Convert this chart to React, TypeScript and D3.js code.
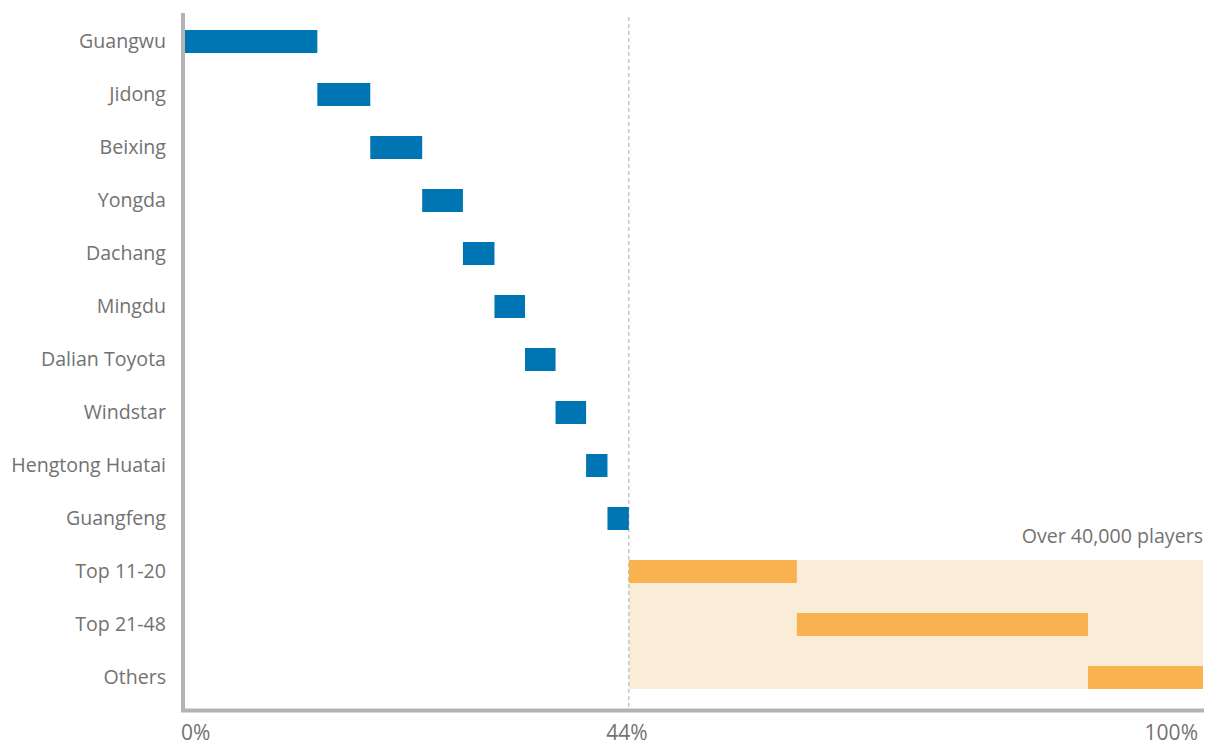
import React, { useEffect, useRef } from "react";
import * as d3 from "d3";

// data (share of total, %)
const categories = [
  "Guangwu",
  "Jidong",
  "Beixing",
  "Yongda",
  "Dachang",
  "Mingdu",
  "Dalian Toyota",
  "Windstar",
  "Hengtong Huatai",
  "Guangfeng",
  "Top 11-20",
  "Top 21-48",
  "Others",
];
const shares = [13.0, 5.2, 5.1, 4.0, 3.1, 3.0, 3.0, 3.0, 2.1, 2.1, 16.5, 28.6, 11.3];
const groups = ["top", "top", "top", "top", "top", "top", "top", "top", "top", "top", "rest", "rest", "rest"];
const tickLabels = ["0%", "44%", "100%"];
const noteText = "Over 40,000 players";

const W = 1205;
const H = 745;

const App = () => {
  const ref = useRef<SVGSVGElement>(null);

  useEffect(() => {
    const svg = d3.select(ref.current);
    svg.selectAll("*").remove();

    const left = 185;
    const right = 1203;
    const font = "'Open Sans', sans-serif";
    const textColor = "#727272";
    const fontSize = "19.6px";

    // cumulative start/end for each waterfall bar
    let acc = 0;
    const rows = categories.map((c, i) => {
      const start = acc;
      acc += shares[i];
      return { name: c, start, end: acc, group: groups[i] };
    });
    const topEnd = rows[9].end;

    const x = d3.scaleLinear().domain([0, 100]).range([left, right]);
    const y = d3
      .scaleBand()
      .domain(categories)
      .range([15, 15 + categories.length * 53])
      .paddingInner(0.566)
      .paddingOuter(0.283);

    const g = svg.append("g");

    // shaded "over 40,000 players" zone
    const restRows = rows.filter((r) => r.group === "rest");
    const y0 = y(restRows[0].name)!;
    const y1 = y(restRows[restRows.length - 1].name)! + y.bandwidth();
    g.append("rect")
      .attr("x", x(topEnd))
      .attr("y", y0)
      .attr("width", x(100) - x(topEnd))
      .attr("height", y1 - y0)
      .attr("fill", "#F9EDD8");

    g.append("text")
      .attr("x", x(100))
      .attr("y", y0 - 17)
      .attr("text-anchor", "end")
      .style("font-family", font)
      .style("font-size", fontSize)
      .style("fill", textColor)
      .text(noteText);

    // dashed marker at end of top 10
    g.append("line")
      .attr("x1", x(topEnd))
      .attr("x2", x(topEnd))
      .attr("y1", 17)
      .attr("y2", 708)
      .attr("stroke", "#AAAAAA")
      .attr("stroke-width", 1)
      .attr("stroke-dasharray", "4,3");

    // bars
    g.selectAll("rect.bar")
      .data(rows)
      .enter()
      .append("rect")
      .attr("class", "bar")
      .attr("x", (d) => x(d.start))
      .attr("y", (d) => y(d.name)!)
      .attr("width", (d) => x(d.end) - x(d.start))
      .attr("height", y.bandwidth())
      .attr("fill", (d) => (d.group === "top" ? "#0075B4" : "#F8B250"));

    // category labels
    g.selectAll("text.cat")
      .data(rows)
      .enter()
      .append("text")
      .attr("class", "cat")
      .attr("x", 166)
      .attr("y", (d) => y(d.name)! + y.bandwidth() / 2)
      .attr("dy", "0.35em")
      .attr("text-anchor", "end")
      .style("font-family", font)
      .style("font-size", fontSize)
      .style("fill", textColor)
      .text((d) => d.name);

    // axes lines
    g.append("line")
      .attr("x1", 183)
      .attr("x2", 183)
      .attr("y1", 13)
      .attr("y2", 712)
      .attr("stroke", "#B3B3B3")
      .attr("stroke-width", 4);
    g.append("line")
      .attr("x1", 181)
      .attr("x2", 1204)
      .attr("y1", 710.5)
      .attr("y2", 710.5)
      .attr("stroke", "#B3B3B3")
      .attr("stroke-width", 4);

    // tick labels
    const tickPos = [0, topEnd, 100];
    const anchors = ["start", "middle", "end"];
    const offsets = [-4, -2, -5];
    g.selectAll("text.tick")
      .data(tickLabels)
      .enter()
      .append("text")
      .attr("class", "tick")
      .attr("x", (d, i) => x(tickPos[i]) + offsets[i])
      .attr("y", 739.5)
      .attr("text-anchor", (d, i) => anchors[i])
      .style("font-family", font)
      .style("font-size", "21px")
      .style("fill", textColor)
      .text((d) => d);
  }, []);

  return (
    <svg
      ref={ref}
      width={W}
      height={H}
      style={{ position: "absolute", left: 0, top: 0, background: "#fff" }}
    />
  );
};

export default App;
